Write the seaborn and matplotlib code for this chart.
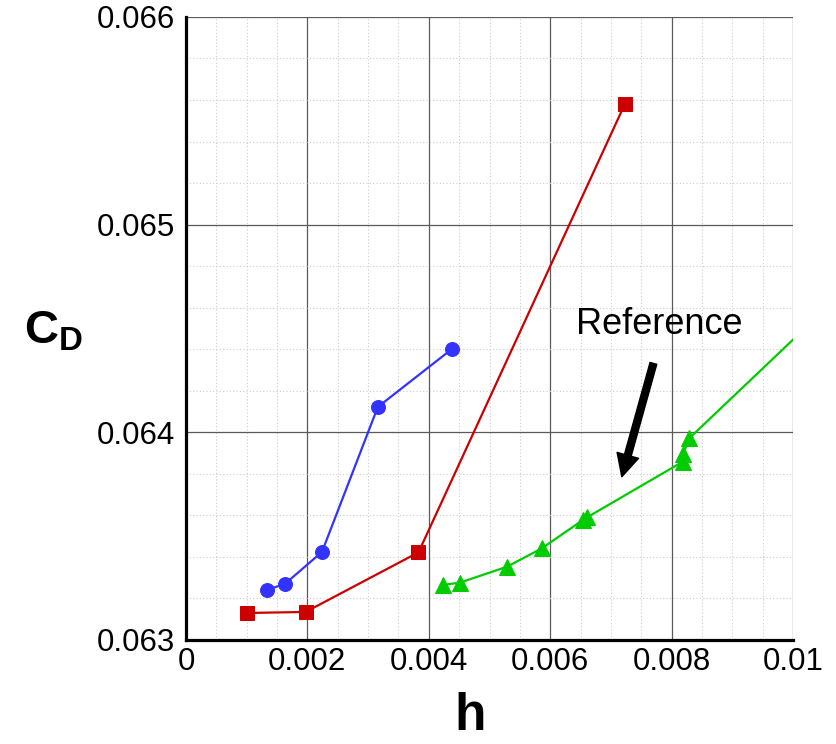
import matplotlib
matplotlib.use("Agg")
import matplotlib.pyplot as plt
from matplotlib.ticker import MultipleLocator
import seaborn as sns
import pandas as pd

# Grid spacing h vs drag coefficient for three solution families
blue_h = [0.00133, 0.00163, 0.00224, 0.00316, 0.00438]
blue_cd = [0.063241, 0.063270, 0.063424, 0.064122, 0.064401]

red_h = [0.00100, 0.00197, 0.00383, 0.00723]
red_cd = [0.063130, 0.063135, 0.063422, 0.065581]

green_h = [0.00423, 0.00451, 0.00529, 0.00586, 0.00654, 0.00661,
           0.00818, 0.00819, 0.00829, 0.01150]
green_cd = [0.063265, 0.063276, 0.063353, 0.063441, 0.063578, 0.063591,
            0.063858, 0.063896, 0.063971, 0.064863]

x_ticks = [0, 0.002, 0.004, 0.006, 0.008, 0.01]
x_labels = ["0", "0.002", "0.004", "0.006", "0.008", "0.01"]
y_ticks = [0.063, 0.064, 0.065, 0.066]
y_labels = ["0.063", "0.064", "0.065", "0.066"]

annot_text = "Reference"
annot_text_pos = (0.00779, 0.064517)
arrow_tail = (0.00770, 0.064332)
arrow_tip = (0.00718, 0.063786)

sns.set_style("white")
plt.rcParams["font.family"] = ["Liberation Sans", "DejaVu Sans"]
plt.rcParams["mathtext.fontset"] = "custom"
plt.rcParams["mathtext.bf"] = "Liberation Sans:bold"
plt.rcParams["mathtext.rm"] = "Liberation Sans"
plt.rcParams["text.color"] = "black"
plt.rcParams["axes.labelcolor"] = "black"

fig = plt.figure(figsize=(8.36, 7.44), dpi=100)
ax = fig.add_axes([0.2225, 0.1398, 0.9486 - 0.2225, 0.9772 - 0.1398])

series = [
    (blue_h, blue_cd, "#3333ff", "o", 10),
    (red_h, red_cd, "#cc0000", "s", 9.5),
    (green_h, green_cd, "#00cc00", "^", 11),
]
for hx, cd, col, mk, ms in series:
    df = pd.DataFrame({"h": hx, "cd": cd})
    sns.lineplot(data=df, x="h", y="cd", ax=ax, sort=False, color=col,
                 marker=mk, markersize=ms, markeredgecolor=col,
                 linewidth=1.6, clip_on=True, zorder=3)

ax.set_xlim(0, 0.01)
ax.set_ylim(0.063, 0.066)
ax.set_xticks(x_ticks)
ax.set_xticklabels(x_labels)
ax.set_yticks(y_ticks)
ax.set_yticklabels(y_labels)
ax.xaxis.set_minor_locator(MultipleLocator(0.0005))
ax.yaxis.set_minor_locator(MultipleLocator(0.0002))

ax.grid(which="major", color="#5a5a5a", linewidth=0.9, linestyle="-")
ax.grid(which="minor", color="#cccccc", linewidth=0.8, linestyle=(0, (1, 2)))
ax.set_axisbelow(True)

for side in ("top", "right"):
    ax.spines[side].set_visible(False)
for side in ("left", "bottom"):
    ax.spines[side].set_linewidth(2.3)
    ax.spines[side].set_color("black")

ax.tick_params(which="major", direction="in", length=11, width=2.3,
               labelsize=22.5, colors="black")
ax.tick_params(which="minor", direction="in", length=6.5, width=1.0,
               colors="black")
ax.tick_params(axis="y", which="major", pad=8)
ax.tick_params(axis="x", which="major", pad=5)

ax.set_xlabel("h", fontsize=37, fontweight="bold", color="black")
ax.xaxis.set_label_coords(0.468, -0.084)
ax.set_ylabel(r"$\mathbf{C}_\mathbf{D}$", fontsize=34, rotation=0,
              va="center", ha="center", color="black")
ax.yaxis.set_label_coords(-0.219, 0.495)

ax.text(annot_text_pos[0], annot_text_pos[1], annot_text, fontsize=26,
        ha="center", va="center", color="black")
ax.annotate("", xy=arrow_tip, xytext=arrow_tail,
            arrowprops=dict(facecolor="black", edgecolor="black",
                            width=5, headwidth=16, headlength=16, shrink=0))

fig.savefig("out.png", dpi=100)
